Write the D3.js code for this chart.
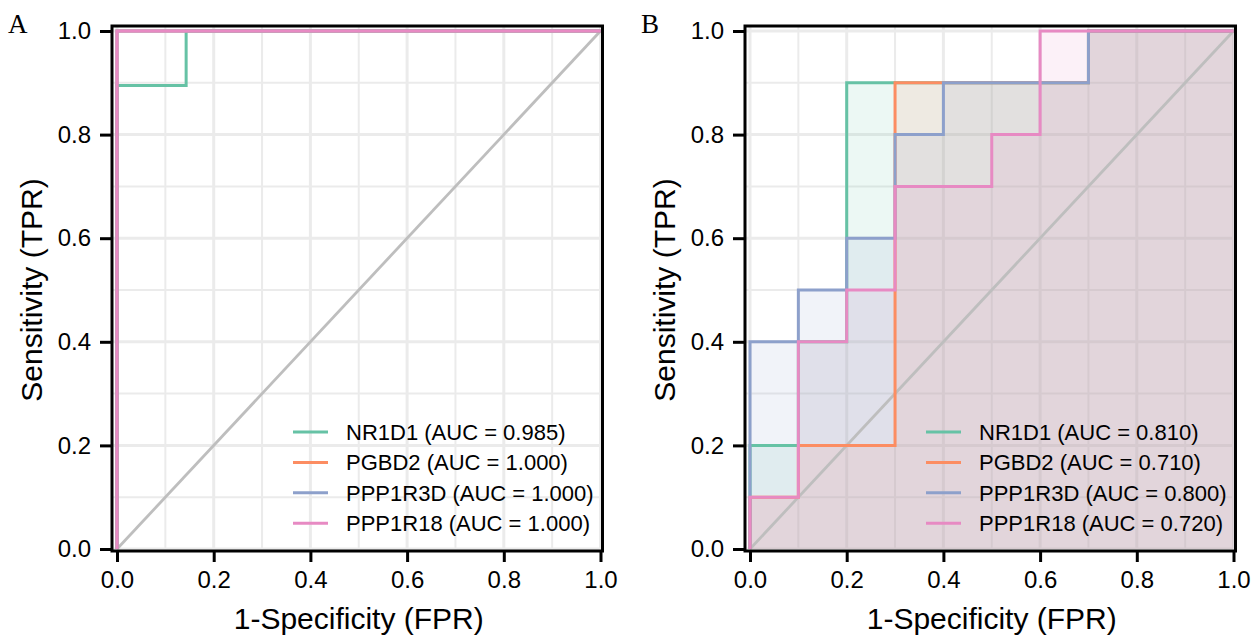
<!DOCTYPE html>
<html lang="en">
  <head>
    <meta charset="utf-8" />
    <title>ROC curves</title>
    <script src="https://d3js.org/d3.v7.min.js"></script>
    <style>
      body { margin: 0; background: #fff; }
      text { font-family: "Liberation Sans", Arial, sans-serif; fill: #000; }
    </style>
  </head>
  <body>
    <script>
      // genes and colours (Set2)
      var genes = ["NR1D1", "PGBD2", "PPP1R3D", "PPP1R18"];
      var colors = ["#66C2A5", "#FC8D62", "#8DA0CB", "#E78AC3"];
      var ticks = [0, 0.2, 0.4, 0.6, 0.8, 1.0];

      // panel A
      var aucA = [0.985, 1.0, 1.0, 1.0];
      var fprA = [
        [0, 0, 0.143, 0.143, 1],
        [0, 0, 1],
        [0, 0, 1],
        [0, 0, 1]
      ];
      var tprA = [
        [0, 0.895, 0.895, 1, 1],
        [0, 1, 1],
        [0, 1, 1],
        [0, 1, 1]
      ];

      // panel B
      var aucB = [0.81, 0.71, 0.8, 0.72];
      var fprB = [
        [0, 0, 0.1, 0.1, 0.2, 0.2, 0.3, 0.7, 0.7, 1],
        [0, 0, 0.1, 0.1, 0.3, 0.3, 0.4, 0.7, 0.7, 1],
        [0, 0, 0.1, 0.1, 0.2, 0.2, 0.3, 0.3, 0.4, 0.4, 0.7, 0.7, 1],
        [0, 0, 0.1, 0.1, 0.2, 0.2, 0.3, 0.3, 0.5, 0.5, 0.6, 0.6, 1]
      ];
      var tprB = [
        [0, 0.2, 0.2, 0.4, 0.4, 0.9, 0.9, 0.9, 1, 1],
        [0, 0.1, 0.1, 0.2, 0.2, 0.9, 0.9, 0.9, 1, 1],
        [0, 0.4, 0.4, 0.5, 0.5, 0.6, 0.6, 0.8, 0.8, 0.9, 0.9, 1, 1],
        [0, 0.1, 0.1, 0.4, 0.4, 0.5, 0.5, 0.7, 0.7, 0.8, 0.8, 1, 1]
      ];

      var svg = d3.select("body").append("svg")
        .attr("width", 1255)
        .attr("height", 635);

      function drawPanel(off, letter, fpr, tpr, auc, filled) {
        var x = d3.scaleLinear().domain([0, 1]).range([117 + off, 600.5 + off]);
        var y = d3.scaleLinear().domain([0, 1]).range([549, 31]);
        var left = 112 + off, right = 602.5 + off, top = 26, bottom = 551;

        var g = svg.append("g");
        var clipId = "clip" + letter;
        svg.append("clipPath").attr("id", clipId)
          .append("rect").attr("x", left).attr("y", top)
          .attr("width", right - left).attr("height", bottom - top);

        // grid
        var minor = [0.1, 0.3, 0.5, 0.7, 0.9];
        g.selectAll(".gxm").data(minor).enter().append("line")
          .attr("x1", function (d) { return x(d); }).attr("x2", function (d) { return x(d); })
          .attr("y1", top).attr("y2", bottom)
          .attr("stroke", "#ebebeb").attr("stroke-width", 2);
        g.selectAll(".gym").data(minor).enter().append("line")
          .attr("y1", function (d) { return y(d); }).attr("y2", function (d) { return y(d); })
          .attr("x1", left).attr("x2", right)
          .attr("stroke", "#ebebeb").attr("stroke-width", 2);
        g.selectAll(".gx").data(ticks).enter().append("line")
          .attr("x1", function (d) { return x(d); }).attr("x2", function (d) { return x(d); })
          .attr("y1", top).attr("y2", bottom)
          .attr("stroke", "#ebebeb").attr("stroke-width", 3);
        g.selectAll(".gy").data(ticks).enter().append("line")
          .attr("y1", function (d) { return y(d); }).attr("y2", function (d) { return y(d); })
          .attr("x1", left).attr("x2", right)
          .attr("stroke", "#ebebeb").attr("stroke-width", 3);

        var plot = g.append("g").attr("clip-path", "url(#" + clipId + ")");

        // shaded area under each curve
        if (filled) {
          var area = d3.area()
            .x(function (d) { return x(d[0]); })
            .y0(y(0))
            .y1(function (d) { return y(d[1]); });
          fpr.forEach(function (f, i) {
            var pts = f.map(function (v, j) { return [v, tpr[i][j]]; });
            plot.append("path").attr("d", area(pts))
              .attr("fill", colors[i]).attr("fill-opacity", 0.12);
          });
        }

        // reference diagonal
        plot.append("line")
          .attr("x1", x(0)).attr("y1", y(0)).attr("x2", x(1)).attr("y2", y(1))
          .attr("stroke", "#bebebe").attr("stroke-width", 2.8);

        var line = d3.line()
          .x(function (d) { return x(d[0]); })
          .y(function (d) { return y(d[1]); });
        fpr.forEach(function (f, i) {
          var pts = f.map(function (v, j) { return [v, tpr[i][j]]; });
          plot.append("path").attr("d", line(pts))
            .attr("fill", "none").attr("stroke", colors[i]).attr("stroke-width", 3);
        });

        // border
        g.append("rect").attr("x", left).attr("y", top)
          .attr("width", right - left).attr("height", bottom - top)
          .attr("fill", "none").attr("stroke", "#000").attr("stroke-width", 3);

        // axes
        var xAxis = g.append("g").attr("transform", "translate(0," + bottom + ")")
          .call(d3.axisBottom(x).tickValues(ticks).tickFormat(d3.format(".1f"))
            .tickSize(11).tickPadding(9));
        var yAxis = g.append("g").attr("transform", "translate(" + left + ",0)")
          .call(d3.axisLeft(y).tickValues(ticks).tickFormat(d3.format(".1f"))
            .tickSize(12).tickPadding(9));
        [xAxis, yAxis].forEach(function (a) {
          a.select(".domain").remove();
          a.selectAll(".tick line").attr("stroke", "#000").attr("stroke-width", 3);
          a.selectAll(".tick text").attr("font-size", 24)
            .attr("font-family", "Liberation Sans, Arial, sans-serif").attr("fill", "#000");
        });

        // titles
        g.append("text").attr("x", (x(0) + x(1)) / 2).attr("y", 629)
          .attr("text-anchor", "middle").attr("font-size", 30)
          .text("1-Specificity (FPR)");
        g.append("text")
          .attr("transform", "translate(" + (42 + off) + "," + (y(0) + y(1)) / 2 + ") rotate(-90)")
          .attr("text-anchor", "middle").attr("font-size", 30)
          .text("Sensitivity (TPR)");
        g.append("text").attr("x", 8 + off).attr("y", 33)
          .attr("font-size", 27)
          .style("font-family", "Liberation Serif, Times New Roman, serif")
          .text(letter);

        // legend
        var leg = g.append("g");
        genes.forEach(function (name, i) {
          var cy = 432 + i * 30.4;
          leg.append("line").attr("x1", 293 + off).attr("x2", 328 + off)
            .attr("y1", cy).attr("y2", cy)
            .attr("stroke", colors[i]).attr("stroke-width", 3);
          leg.append("text").attr("x", 346 + off).attr("y", cy + 8)
            .attr("font-size", 22)
            .text(name + " (AUC = " + auc[i].toFixed(3) + ")");
        });
      }

      drawPanel(0, "A", fprA, tprA, aucA, false);
      drawPanel(633, "B", fprB, tprB, aucB, true);
    </script>
  </body>
</html>
